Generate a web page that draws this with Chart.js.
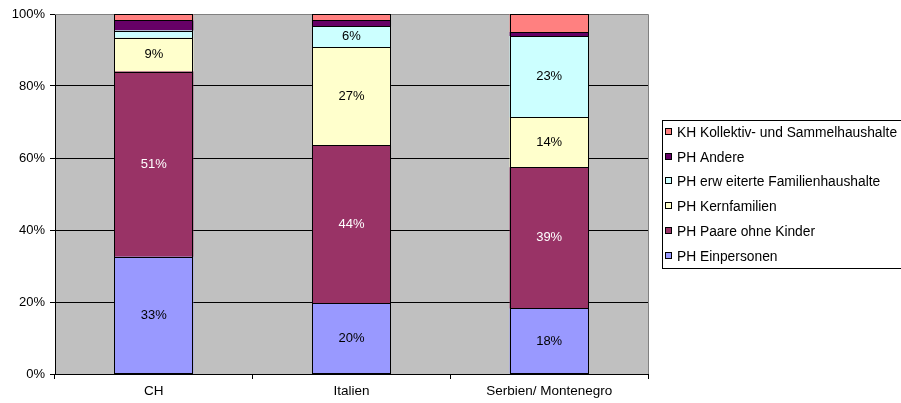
<!DOCTYPE html>
<html>
<head>
<meta charset="utf-8">
<script src="https://cdn.jsdelivr.net/npm/chart.js@4"></script>
<style>
  html, body { margin: 0; padding: 0; background: #fff; }
  #wrap { width: 901px; height: 403px; }
</style>
</head>
<body>
<div id="wrap"><canvas id="myChart" width="901" height="403"></canvas></div>
<script>
// categories and series (percent shares)
const countries = ['CH', 'Italien', 'Serbien/ Montenegro'];
const einpersonen = [32.6, 19.6, 18.2];
const paareOhneKinder = [51.4, 43.9, 39.2];
const kernfamilien = [9.4, 27.2, 13.9];
const erweiterte = [2.0, 5.9, 22.6];
const andere = [2.8, 1.7, 1.1];
const kollektiv = [1.8, 1.7, 5.0];
const yTicks = [0, 20, 40, 60, 80, 100];

const FONT = '"Liberation Sans", Arial, sans-serif';

function ds(label, data, color, labelColor, showLabels) {
    return {
        label: label,
        data: data,
        backgroundColor: color,
        borderWidth: 0,
        inflateAmount: 0,
        labelColor: labelColor,
        showLabels: showLabels
    };
}

// plot background + frame
const plotBg = {
    id: 'plotBg',
    beforeDraw(chart) {
        const a = chart.chartArea, c = chart.ctx;
        c.save();
        c.fillStyle = '#C0C0C0';
        c.fillRect(a.left, a.top, a.right - a.left, a.bottom - a.top);
        c.restore();
    },
    beforeDatasetsDraw(chart) {
        const a = chart.chartArea, c = chart.ctx;
        c.save();
        c.strokeStyle = '#808080';
        c.lineWidth = 1;
        c.beginPath();
        c.moveTo(a.left, a.top + 0.5);
        c.lineTo(Math.round(a.right) + 0.5, a.top + 0.5);
        c.lineTo(Math.round(a.right) + 0.5, a.bottom);
        c.stroke();
        c.restore();
    }
};

// crisp black outlines + percentage labels inside segments
const segLabels = {
    id: 'segLabels',
    afterDatasetsDraw(chart) {
        const c = chart.ctx;
        c.save();
        c.strokeStyle = '#000';
        c.lineWidth = 1;
        chart.data.datasets.forEach((d, i) => {
            chart.getDatasetMeta(i).data.forEach((el) => {
                const l = Math.round(el.x - el.width / 2) + 0.5;
                const r = Math.round(el.x + el.width / 2) - 0.5;
                const t = Math.round(el.y) + 0.5;
                const b = Math.min(Math.round(el.base), 373) + 0.5;
                c.strokeRect(l, t, r - l, b - t);
            });
        });
        c.font = '13px ' + FONT;
        c.textAlign = 'center';
        c.textBaseline = 'middle';
        chart.data.datasets.forEach((d, i) => {
            if (!d.showLabels) return;
            chart.getDatasetMeta(i).data.forEach((el, j) => {
                const v = d.data[j];
                if (v < 3) return;
                c.fillStyle = d.labelColor;
                c.fillText(Math.round(v) + '%', el.x, (el.y + el.base) / 2);
            });
        });
        c.restore();
    }
};

// legend box on the right, reverse order
const sideLegend = {
    id: 'sideLegend',
    afterDraw(chart) {
        const c = chart.ctx;
        const x = 662.5, y = 120.5;
        c.save();
        c.strokeStyle = '#000';
        c.lineWidth = 1;
        c.strokeRect(x, y, 260, 148);
        c.font = '13.8px ' + FONT;
        c.textBaseline = 'middle';
        const sets = chart.data.datasets.slice().reverse();
        sets.forEach((d, k) => {
            const cy = Math.round(132 + k * 24.7);
            c.fillStyle = d.backgroundColor;
            c.fillRect(665.5, cy - 3.5, 6, 6);
            c.strokeRect(665.5, cy - 3.5, 6, 6);
            c.fillStyle = '#000';
            c.fillText(d.label, 677, cy + 1);
        });
        c.restore();
    }
};

const ctx = document.getElementById('myChart');
const myChart = new Chart(ctx, {
    type: 'bar',
    data: {
        labels: countries,
        datasets: [
            ds('PH Einpersonen', einpersonen, '#9999FF', '#000', true),
            ds('PH Paare ohne Kinder', paareOhneKinder, '#993366', '#fff', true),
            ds('PH Kernfamilien', kernfamilien, '#FFFFCC', '#000', true),
            ds('PH erw eiterte Familienhaushalte', erweiterte, '#CCFFFF', '#000', true),
            ds('PH Andere', andere, '#660066', '#fff', false),
            ds('KH Kollektiv- und Sammelhaushalte', kollektiv, '#FF8080', '#000', false)
        ]
    },
    options: {
        responsive: false,
        animation: false,
        devicePixelRatio: 1,
        layout: { padding: { top: 14, right: 253, left: 0, bottom: 0 } },
        datasets: {
            bar: { categoryPercentage: 1, barPercentage: 0.4 }
        },
        plugins: {
            legend: { display: false },
            tooltip: { enabled: false }
        },
        scales: {
            x: {
                stacked: true,
                afterFit(s) { s.height = 29; },
                grid: {
                    offset: true,
                    drawOnChartArea: false,
                    drawTicks: true,
                    tickLength: 5,
                    color: '#000'
                },
                border: { color: '#000' },
                ticks: {
                    color: '#000',
                    padding: 4,
                    maxRotation: 0,
                    font: { family: FONT, size: 13.5 }
                }
            },
            y: {
                stacked: true,
                min: 0,
                max: 100,
                afterFit(s) { s.width = 55; },
                afterBuildTicks(s) { s.ticks = yTicks.map(v => ({ value: v })); },
                grid: {
                    color: (c) => (c.tick && c.tick.value === 100) ? '#808080' : '#000',
                    tickColor: '#000',
                    tickLength: 5
                },
                border: { color: '#000' },
                ticks: {
                    color: '#000',
                    padding: 5,
                    font: { family: FONT, size: 13 },
                    callback: (v) => v + '%'
                }
            }
        }
    },
    plugins: [plotBg, segLabels, sideLegend]
});
</script>
</body>
</html>
